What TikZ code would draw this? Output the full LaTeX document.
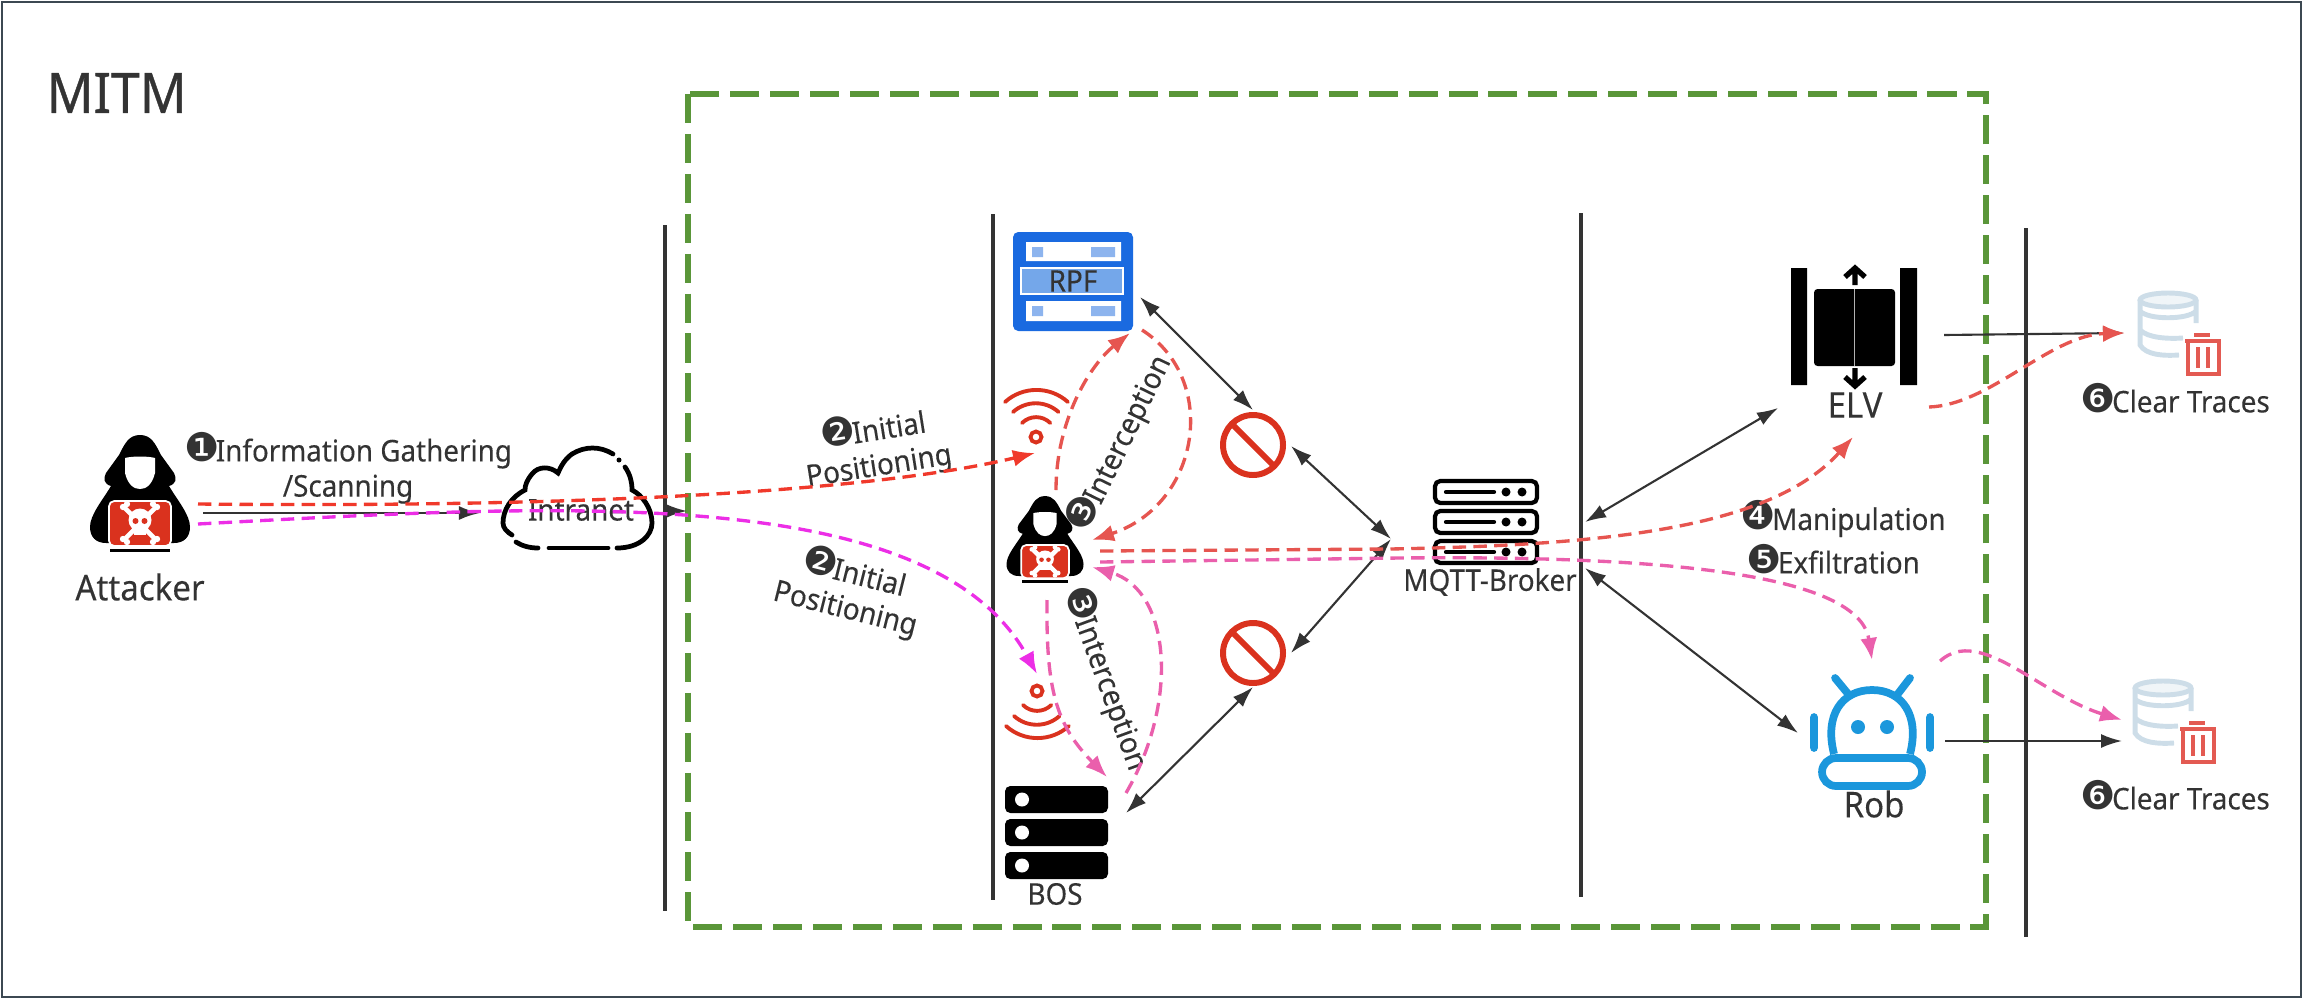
\documentclass[tikz,border=0pt]{standalone}
\usepackage{fontspec}
\setmainfont{Noto Sans}[FakeStretch=0.93,FakeBold=0.2]
\newfontfamily\titlefont{Noto Sans}[FakeStretch=0.93,FakeBold=0.7]
\newfontfamily\numfont{DejaVu Sans}[Scale=1.32]
\newcommand{\numc}[1]{{\numfont #1}\kern-.12em}
\usetikzlibrary{arrows.meta}
\definecolor{framegray}{RGB}{60,72,82}
\definecolor{txtdark}{RGB}{51,51,51}
\definecolor{boxgreen}{RGB}{90,150,57}
\definecolor{iconred}{RGB}{218,50,30}
\definecolor{redline}{RGB}{240,57,43}
\definecolor{softredline}{RGB}{230,85,80}
\definecolor{magline}{RGB}{236,46,230}
\definecolor{pinkline}{RGB}{234,95,172}
\definecolor{rpfblue}{RGB}{26,106,224}
\definecolor{rpfmid}{RGB}{116,167,234}
\definecolor{rpflight}{RGB}{141,180,238}
\definecolor{robblue}{RGB}{27,151,220}
\definecolor{dbblue}{RGB}{205,221,232}
\definecolor{binred}{RGB}{227,90,82}
\tikzset{
hacker/.pic={
\fill[black] (0,-58) .. controls (-11,-58) and (-15,-50) .. (-21,-38) -- (-34,-20) .. controls (-37,-14) and (-36,-9) .. (-29,-7) .. controls (-38,8) and (-50,22) .. (-50,34) .. controls (-50,44) and (-44,50) .. (-34,50) -- (34,50) .. controls (44,50) and (50,44) .. (50,34) .. controls (50,22) and (38,8) .. (29,-7) .. controls (36,-9) and (37,-14) .. (34,-20) -- (21,-38) .. controls (15,-50) and (11,-58) .. (0,-58) -- cycle;
\fill[white] (-15,-35) .. controls (-8,-37) and (8,-37) .. (15,-35) -- (15,-20) .. controls (12,-8) and (6,-4) .. (0,-4) .. controls (-6,-4) and (-12,-8) .. (-15,-20) -- cycle;
\draw[white,fill=iconred,rounded corners=1.5pt,line width=.5pt] (-31,8) rectangle (31,53);
\fill[black] (-30,56) rectangle (30,59);
\draw[white,line width=1.3pt] (-15,15) -- (15,46) (15,15) -- (-15,46);
\foreach \bx/\by in {-17/14,-13/11,17/14,13/11,-17/46,-13/49,17/46,13/49} \fill[white] (\bx,\by) circle[radius=3.2];
\fill[white] (0,27) circle[radius=11.5]; \fill[white] (-6,34) rectangle (6,42);
\fill[iconred] (-4.5,28) circle[radius=3] (4.5,28) circle[radius=3];},
wifi/.pic={
\draw[iconred,line width=1.1pt] (0,0) circle[radius=5.5];
\draw[iconred,line width=1.1pt,line cap=round] (-31,-35) arc[start angle=228,end angle=312,radius=47] (-23,-25) arc[start angle=228,end angle=312,radius=34] (-14,-14) arc[start angle=225,end angle=315,radius=20];},
nogo/.pic={
\draw[iconred,line width=1.7pt] (0,0) circle[radius=30];
\draw[iconred,line width=1.7pt] (-21,-21) -- (21,21);},
rack/.pic={
\foreach \ry in {0,33,66} {\fill[black,rounded corners=1.5pt] (0,\ry) rectangle (103,\ry+27); \fill[white] (17,\ry+13.5) circle[radius=7];}},
mqttrack/.pic={
\foreach \ry in {0,30,60} {\draw[black,fill=white,line width=1.2pt,rounded corners=1.5pt] (2,\ry+2) rectangle (104,\ry+24); \draw[black,line width=1.2pt,line cap=round] (13,\ry+13) -- (61,\ry+13); \fill[black] (73,\ry+13) circle[radius=4.5] (89,\ry+13) circle[radius=4.5];}},
dbbin/.pic={
\draw[dbblue,line width=1.4pt,fill=dbblue!30] (30,10) ellipse[x radius=28,y radius=7];
\draw[dbblue,line width=1.4pt] (2,10) -- (2,55) .. controls (8,65) and (25,66) .. (41,65) (58,10) -- (58,33) (2,21) .. controls (10,30) and (50,30) .. (58,21) (2,40) .. controls (10,48) and (30,49) .. (45,48);
\draw[binred,line width=.9pt] (47,51) -- (83,51) (56,45) -- (72,45) (50,51) -- (50,84) -- (81,84) -- (81,51) (60,57) -- (60,78) (70,57) -- (70,78);}}
\begin{document}
\begin{tikzpicture}[x=0.01cm,y=-0.01cm,
lab/.style={font=\fontsize{8.5}{10}\selectfont,text=txtdark,inner sep=0pt,align=center},
biglab/.style={font=\fontsize{10.1}{12}\selectfont,text=txtdark,inner sep=0pt},
wall/.style={txtdark,line width=1.15pt},
thin arc/.style={txtdark,line width=.6pt,-{Latex[length=2.1mm,width=1.4mm]}},
dbl/.style={txtdark,line width=.6pt,{Latex[length=2.1mm,width=1.4mm]}-{Latex[length=2.1mm,width=1.4mm]}},
dashline/.style={line width=.95pt,dash pattern=on 3.8pt off 2.1pt},
redd/.style={dashline,redline,-{Latex[length=2.2mm,width=1.7mm]}},
softd/.style={dashline,softredline,-{Latex[length=2.2mm,width=1.7mm]}},
magd/.style={dashline,magline,-{Latex[length=2.2mm,width=1.7mm]}},
pinkd/.style={dashline,pinkline,-{Latex[length=2.2mm,width=1.7mm]}},
cloudpart/.style={black,line width=1.35pt,line cap=round}]
\useasboundingbox (0,0) rectangle (2304,1000);
\draw[framegray,line width=.6pt] (2,2) rectangle (2301,997);
\node[font=\titlefont\fontsize{15.8}{18}\selectfont,text=txtdark,inner sep=0pt,anchor=west] (mitm) at (46,93) {MITM};
\draw[boxgreen,line width=1.7pt,dash pattern=on 8.25pt off 3.1pt] (688,94) rectangle (1986,927);
\coordinate (wallat) at (665,225); \coordinate (wallab) at (665,911);
\coordinate (wallbt) at (993,214); \coordinate (wallbb) at (993,900);
\coordinate (wallct) at (1581,213); \coordinate (wallcb) at (1581,897);
\coordinate (walldt) at (2026,228); \coordinate (walldb) at (2026,937);
\draw[wall] (wallat)--(wallab); \draw[wall] (wallbt)--(wallbb);
\draw[wall] (wallct)--(wallcb); \draw[wall] (walldt)--(walldb);
\pic at (140,493) {hacker};
\node[biglab] (attacker) at (140,587) {Attacker};
\node[lab] (info) at (348,468) {\numc{❶}Information Gathering\\/Scanning};
\draw[cloudpart] (613,454) .. controls (600,446) and (585,446) .. (572,454) .. controls (565,459) and (561,466) .. (558,473) .. controls (550,466) and (538,466) .. (532,474) .. controls (527,480) and (525,485) .. (525,490) .. controls (511,497) and (503,510) .. (503,523) .. controls (503,528) and (507,532) .. (512,535);
\draw[cloudpart] (516,542) .. controls (522,546) and (530,548) .. (538,548);
\draw[cloudpart] (549,548) -- (608,548);
\draw[cloudpart] (617,548) .. controls (640,548) and (652,535) .. (652,523) .. controls (652,508) and (642,495) .. (632,490) .. controls (632,482) and (630,474) .. (625,467);
\fill[black] (619,460) circle[radius=2.5];
\node[lab] (intranet) at (581,510) {Intranet};
\node[lab,rotate=9] (posup) at (876,447) {\numc{❷}Initial\\Positioning};
\node[lab,rotate=-14] (posdown) at (850,590) {\numc{❷}Initial\\Positioning};
\fill[rpfblue,rounded corners=1.5pt] (1013,232) rectangle (1133,331);
\fill[white] (1026,242) rectangle (1121,261) (1026,301) rectangle (1121,321);
\fill[rpflight] (1032,247) rectangle (1043,257) (1091,247) rectangle (1115,257) (1032,306) rectangle (1043,316) (1091,306) rectangle (1115,316);
\draw[white,fill=rpfmid,line width=.3pt] (1021,268) rectangle (1123,294);
\node[lab] (rpf) at (1073,281) {RPF};
\pic at (1036,437) {wifi};
\pic[yscale=-1] at (1037,691) {wifi};
\pic[xscale=.77,yscale=.74] at (1045,539) {hacker};
\pic at (1253,445) {nogo};
\pic at (1253,653) {nogo};
\pic at (1005,786) {rack};
\node[lab] (bos) at (1055,894) {BOS};
\pic at (1433,479) {mqttrack};
\node[lab] (broker) at (1490,582) {MQTT-Broker};
\node[lab,rotate=64] (interup) at (1119,443) {\numc{❸}Interception};
\node[lab,rotate=-70] (interdown) at (1107,678) {\numc{❸}Interception};
\fill[black] (1791,268) rectangle (1807,385) (1900,268) rectangle (1917,385);
\fill[black,rounded corners=1pt] (1814,289) rectangle (1895,366);
\draw[white!70!black,line width=.35pt] (1854.5,289) -- (1854.5,366);
\draw[black,line width=1.5pt] (1855,285) -- (1855,268) (1845,277) -- (1855,268) -- (1865,277) (1855,368) -- (1855,386) (1845,377) -- (1855,386) -- (1865,377);
\node[biglab] (elv) at (1855,405) {ELV};
\begin{scope}[shift={(1872,740)}]
\draw[robblue,line width=2.2pt] (-38,14) .. controls (-48,-25) and (-30,-50) .. (0,-50) .. controls (30,-50) and (48,-25) .. (38,14);
\draw[robblue,line width=2.2pt,rounded corners=4pt] (-50,18) rectangle (50,46);
\fill[robblue] (-14,-13) circle[radius=7] (15,-13) circle[radius=7];
\draw[robblue,line width=2.2pt,line cap=round] (-23,-45) -- (-37,-62) (25,-45) -- (38,-62) (-58,-23) -- (-58,8) (58,-23) -- (58,8);
\end{scope}
\node[biglab] (rob) at (1874,804) {Rob};
\pic at (2138,290) {dbbin};
\pic at (2133,678) {dbbin};
\node[lab] (cleara) at (2175,398) {\numc{❻}Clear Traces};
\node[lab] (clearb) at (2175,795) {\numc{❻}Clear Traces};
\node[lab] (manip) at (1843,519) {\numc{❹}Manipulation};
\node[lab] (exfil) at (1833,559) {\numc{❺}Exfiltration};
\coordinate (atkin) at (203,513); \coordinate (cloudin) at (480,513);
\draw[thin arc,line width=.8pt] (atkin)--(cloudin);
\coordinate (cloudouta) at (664,511); \coordinate (cloudoutb) at (687,511);
\draw[thin arc] (cloudouta)--(cloudoutb);
\coordinate (rpfse) at (1140,297); \coordinate (nogoan) at (1253,410);
\coordinate (nogoae) at (1291,446); \coordinate (hub) at (1391,539);
\coordinate (nogobe) at (1291,653); \coordinate (nogobs) at (1253,687); \coordinate (bosne) at (1126,813);
\draw[dbl] (rpfse)--(nogoan); \draw[dbl] (nogoae)--(hub);
\draw[dbl] (nogobe)--(hub); \draw[dbl] (nogobs)--(bosne);
\coordinate (brokera) at (1585,522); \coordinate (elvsw) at (1778,408);
\coordinate (brokerb) at (1585,568); \coordinate (robw) at (1798,733);
\draw[dbl] (brokera)--(elvsw); \draw[dbl] (brokerb)--(robw);
\coordinate (elve) at (1944,335); \coordinate (dbaw) at (2124,333);
\coordinate (robe) at (1945,741); \coordinate (dbbw) at (2122,741);
\draw[thin arc] (elve)--(dbaw); \draw[thin arc] (robe)--(dbbw);
\coordinate (atkred) at (198,504); \coordinate (wifiup) at (1035,453);
\coordinate (atkmag) at (198,524); \coordinate (wifidown) at (1037,674);
\draw[redd] (atkred) .. controls (600,508) and (880,490) .. (wifiup);
\draw[magd] (atkmag) .. controls (550,505) and (930,480) .. (wifidown);
\coordinate (hackn) at (1056,490); \coordinate (rpfs) at (1130,333);
\coordinate (rpfr) at (1142,330); \coordinate (hacke) at (1092,540);
\draw[softd] (hackn) .. controls (1056,420) and (1090,365) .. (rpfs);
\draw[softd] (rpfr) .. controls (1220,380) and (1200,505) .. (hacke);
\coordinate (bosup) at (1126,793); \coordinate (hackse) at (1092,567);
\coordinate (hacks) at (1047,600); \coordinate (bostop) at (1107,777);
\draw[pinkd] (bosup) .. controls (1180,700) and (1170,590) .. (hackse);
\draw[pinkd] (hacks) .. controls (1046,690) and (1056,725) .. (bostop);
\coordinate (hackra) at (1100,551); \coordinate (hackrb) at (1100,562);
\coordinate (elvs) at (1853,437); \coordinate (robn) at (1872,660);
\draw[softd] (hackra) -- (1390,549) .. controls (1600,545) and (1770,530) .. (elvs);
\draw[pinkd] (hackrb) -- (1400,558) .. controls (1700,555) and (1860,580) .. (robn);
\coordinate (elvout) at (1929,407); \coordinate (dbain) at (2125,333);
\coordinate (robout) at (1940,661); \coordinate (dbbin) at (2122,720);
\draw[softd] (elvout) .. controls (1990,405) and (2050,335) .. (dbain);
\draw[pinkd] (robout) .. controls (1980,625) and (2040,695) .. (dbbin);
\end{tikzpicture}
\end{document}
